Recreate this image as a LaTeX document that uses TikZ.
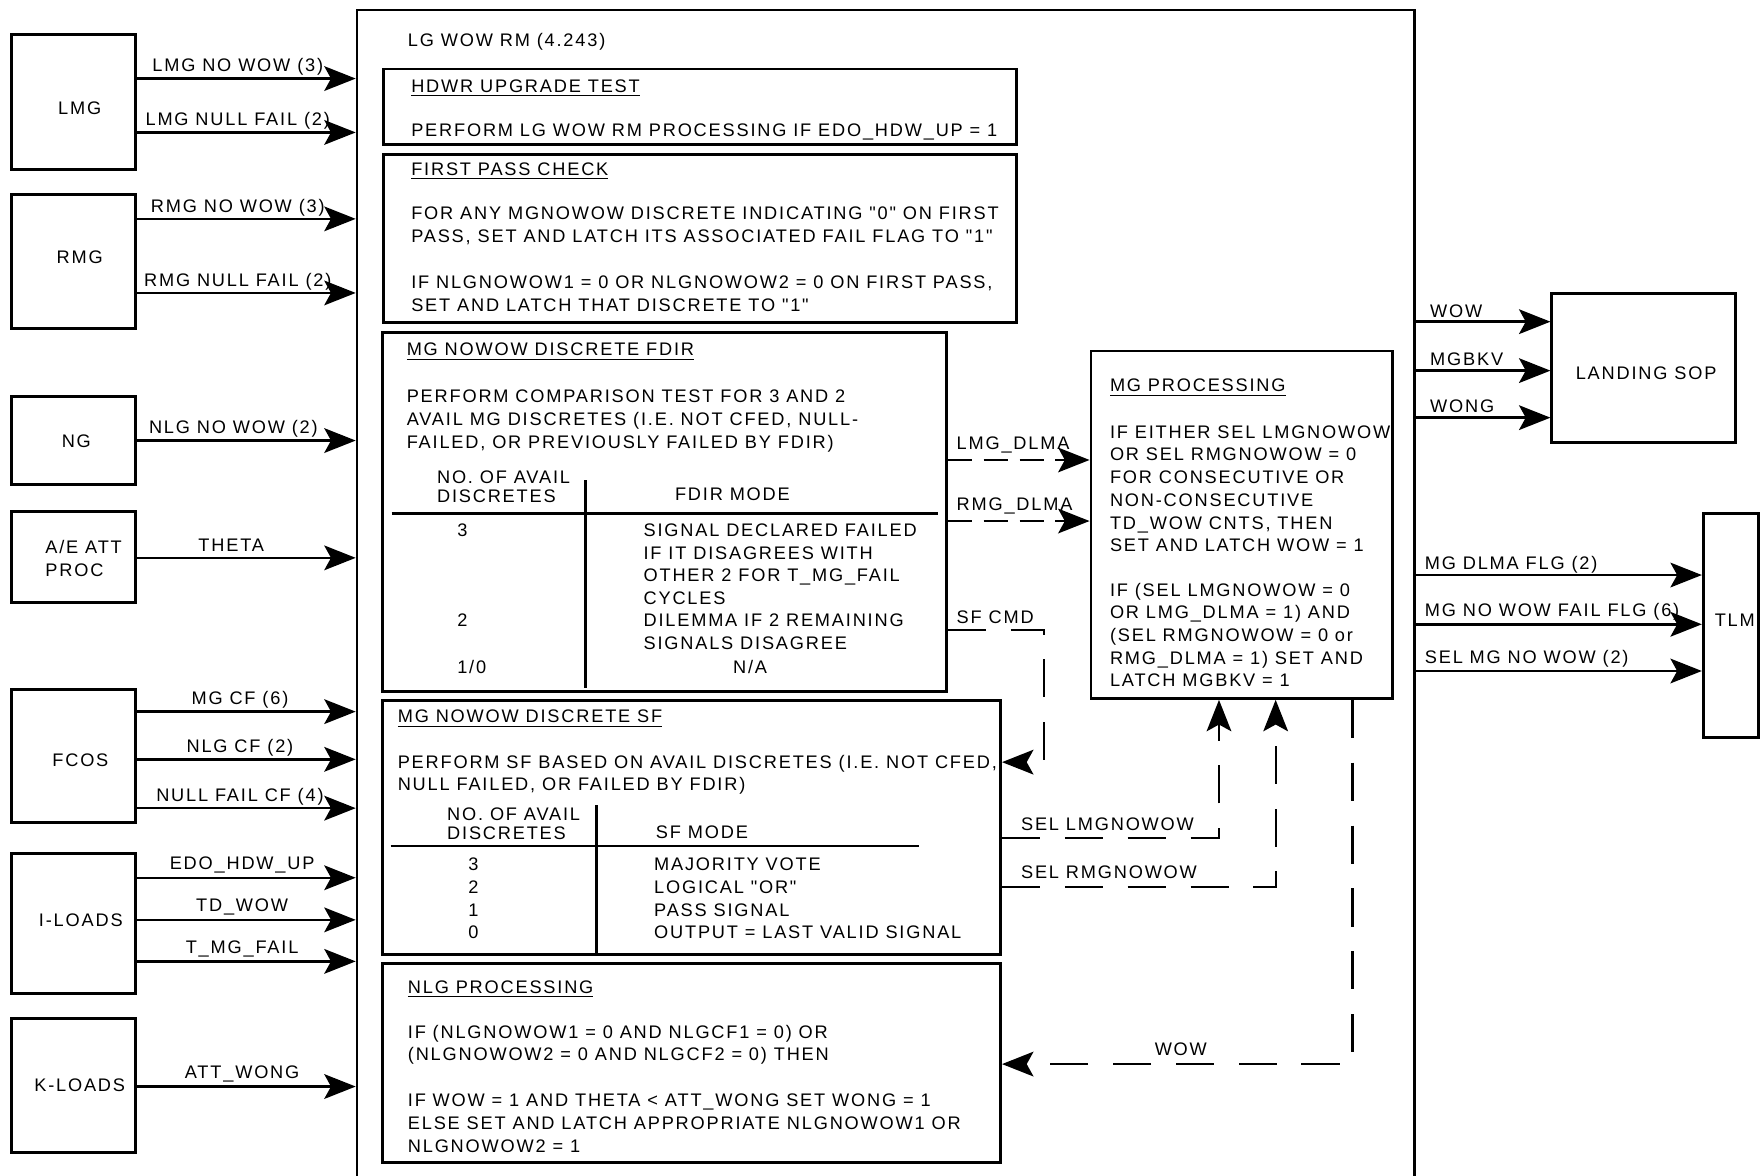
\documentclass[tikz,border=0pt]{standalone}
\usepackage{fontspec}
\setmainfont{Liberation Sans}[LetterSpace=10, Ligatures=TeXOff]
\usepackage{tikz}
\usetikzlibrary{arrows.meta, positioning, calc, fit}
\newcommand{\fsz}{\fontsize{8.1}{10.1}\selectfont}
\newcommand{\mline}[1]{\begin{tabular}[t]{@{}l@{}}#1\end{tabular}}
\tikzset{
  block/.style={rectangle, draw=black, line width=1.3pt, inner sep=0pt},
  mainblock/.style={rectangle, draw=black, line width=1.1pt, inner sep=0pt},
  boxlbl/.style={inner sep=0pt, align=left, font=\fsz},
  txt/.style={anchor=base west, inner sep=0pt, font=\fsz},
  lbl/.style={anchor=base, inner sep=0pt, font=\fsz},
  lbll/.style={anchor=base west, inner sep=0pt, font=\fsz},
  arrow/.style={-{Stealth[length=14pt, width=11pt, inset=3pt]}, line width=1.1pt, color=black},
  dasharrow/.style={arrow, line width=1pt, dash pattern=on 11pt off 5pt},
  longdash/.style={arrow, line width=1pt, dash pattern=on 17pt off 11pt},
  line/.style={line width=1.2pt, color=black}
}

\begin{document}
\begin{tikzpicture}[x=0.5pt, y=-0.5pt]
  \clip (0,0) rectangle (1568,1047);
  \fill[white] (0,0) rectangle (1568,1047);

  % sources
  \node[block, fit={(10,31) (121,151)}] (lmg) {};
  \node[block, fit={(10,173) (121,293)}] (rmg) {};
  \node[block, fit={(10,353) (121,432)}] (ng) {};
  \node[block, fit={(10,456) (121,537)}] (aeatt) {};
  \node[block, fit={(10,614) (121,733)}] (fcos) {};
  \node[block, fit={(10,760) (121,885)}] (iload) {};
  \node[block, fit={(10,907) (121,1027)}] (kload) {};
  \node[boxlbl] (lmgtxt) at (71,96) {LMG};
  \node[boxlbl] (rmgtxt) at (71,229) {RMG};
  \node[boxlbl] (ngtxt) at (68,393.5) {NG};
  \node[boxlbl] (aetxt) at (74.5,497.5) {A/E ATT\\PROC};
  \node[boxlbl] (fcostxt) at (71.6,677) {FCOS};
  \node[boxlbl] (iloadtxt) at (72,820) {I-LOADS};
  \node[boxlbl] (kloadtxt) at (71,967) {K-LOADS};

  % LG WOW RM
  \node[mainblock, fit={(318,9) (1260,1090)}] (main) {};
  \node[txt] (maintxt) at (363,41.6) {LG WOW RM (4.243)};

  \node[block, fit={(341.5,61.5) (906,129)}] (hdwr) {};
  \node[txt] (hdwrttl) at (366,82) {\underline{HDWR UPGRADE TEST}};
  \node[txt] (hdwrtxt) at (366,122) {PERFORM LG WOW RM PROCESSING IF EDO\_HDW\_UP = 1};

  \node[block, fit={(341.5,137.5) (906,287.5)}] (first) {};
  \node[txt] (firstttl) at (366,156) {\underline{FIRST PASS CHECK}};
  \node[txt] (firsta) at (366,196) {\mline{FOR ANY MGNOWOW DISCRETE INDICATING "0" ON FIRST\\PASS, SET AND LATCH ITS ASSOCIATED FAIL FLAG TO "1"}};
  \node[txt] (firstb) at (366,257) {\mline{IF NLGNOWOW1 = 0 OR NLGNOWOW2 = 0 ON FIRST PASS,\\SET AND LATCH THAT DISCRETE TO "1"}};

  \node[block, fit={(341,296.4) (843,616)}] (fdir) {};
  \node[txt] (fdirttl) at (362,317) {\underline{MG NOWOW DISCRETE FDIR}};
  \node[txt] (fdirtxt) at (362,359) {\mline{PERFORM COMPARISON TEST FOR 3 AND 2\\AVAIL MG DISCRETES (I.E. NOT CFED, NULL-\\FAILED, OR PREVIOUSLY FAILED BY FDIR)}};
  \node[txt] (fdirnum) at (389,430.6) {\mline{NO. OF AVAIL\\[-1.6pt]DISCRETES}};
  \node[txt] (fdirmode) at (601,445.5) {FDIR MODE};
  \draw[line] (349,457.3) -- (835.6,457.3);
  \draw[line] (521.8,427.7) -- (521.8,613.3);
  \node[txt] (fdirthree) at (407,478) {3};
  \node[txt] (fdirthreetxt) at (573,478) {\mline{SIGNAL DECLARED FAILED\\IF IT DISAGREES WITH\\OTHER 2 FOR T\_MG\_FAIL\\CYCLES}};
  \node[txt] (fdirtwo) at (407,558.3) {2};
  \node[txt] (fdirtwotxt) at (573,558.3) {\mline{DILEMMA IF 2 REMAINING\\SIGNALS DISAGREE}};
  \node[txt] (fdirone) at (407,600) {1/0};
  \node[lbl] (fdironetxt) at (668.3,600) {N/A};

  \node[block, fit={(341,624.2) (891.4,850)}] (sf) {};
  \node[txt] (sfttl) at (354,644) {\underline{MG NOWOW DISCRETE SF}};
  \node[txt] (sftxt) at (354,684.5) {\mline{PERFORM SF BASED ON AVAIL DISCRETES (I.E. NOT CFED,\\NULL FAILED, OR FAILED BY FDIR)}};
  \node[txt] (sfnum) at (398,731.2) {\mline{NO. OF AVAIL\\[-1.6pt]DISCRETES}};
  \node[txt] (sfmode) at (584,747) {SF MODE};
  \draw[line] (348,753.7) -- (819,753.7);
  \draw[line] (531.3,717.2) -- (sf.south -| 531.3,0);
  \node[lbl] (sfthree) at (421.7,775.1) {3};
  \node[lbl] (sftwo) at (421.7,795.9) {2};
  \node[lbl] (sfone) at (421.7,816.1) {1};
  \node[lbl] (sfzero) at (421.7,836) {0};
  \node[txt] (sfthreetxt) at (582.4,775.1) {MAJORITY VOTE};
  \node[txt] (sftwotxt) at (582.4,795.9) {LOGICAL "OR"};
  \node[txt] (sfonetxt) at (582.4,816.1) {PASS SIGNAL};
  \node[txt] (sfzerotxt) at (582.4,836) {OUTPUT = LAST VALID SIGNAL};

  \node[block, fit={(341,858.5) (891.4,1035.8)}] (nlg) {};
  \node[txt] (nlgttl) at (363,885) {\underline{NLG PROCESSING}};
  \node[txt] (nlga) at (363,925) {\mline{IF (NLGNOWOW1 = 0 AND NLGCF1 = 0) OR\\(NLGNOWOW2 = 0 AND NLGCF2 = 0) THEN}};
  \node[txt] (nlgb) at (363,986) {\mline{IF WOW = 1 AND THETA < ATT\_WONG SET WONG = 1\\ELSE SET AND LATCH APPROPRIATE NLGNOWOW1 OR\\NLGNOWOW2 = 1}};

  \node[block, fit={(972,312.7) (1240.5,622.2)}] (mgp) {};
  \node[txt] (mgpttl) at (988.5,349) {\underline{MG PROCESSING}};
  \node[txt] (mgpa) at (988.5,390.5) {\mline{IF EITHER SEL LMGNOWOW\\OR SEL RMGNOWOW = 0\\FOR CONSECUTIVE OR\\NON-CONSECUTIVE\\TD\_WOW CNTS, THEN\\SET AND LATCH WOW = 1}};
  \node[txt] (mgpb) at (988.5,531) {\mline{IF (SEL LMGNOWOW = 0\\OR LMG\_DLMA = 1) AND\\(SEL RMGNOWOW = 0 or\\RMG\_DLMA = 1) SET AND\\LATCH MGBKV = 1}};

  % sinks
  \node[block, fit={(1382.6,261.3) (1546.4,394.4)}] (sop) {};
  \node[boxlbl] (soptxt) at (1466.5,332.5) {LANDING SOP};
  \node[block, fit={(1517.5,457.3) (1566.3,657.2)}] (tlm) {};
  \node[boxlbl] (tlmtxt) at (1545.5,552.5) {TLM};

  % inputs
  \draw[arrow] (lmg.east |- 0,70) -- node[lbl, pos=0.46, yshift=3pt] {LMG NO WOW (3)} (main.west |- 0,70);
  \draw[arrow] (lmg.east |- 0,118) -- node[lbl, pos=0.46, yshift=3pt] {LMG NULL FAIL (2)} (main.west |- 0,118);
  \draw[arrow] (rmg.east |- 0,195) -- node[lbl, pos=0.46, yshift=3pt] {RMG NO WOW (3)} (main.west |- 0,195);
  \draw[arrow] (rmg.east |- 0,261) -- node[lbl, pos=0.46, yshift=3pt] {RMG NULL FAIL (2)} (main.west |- 0,261);
  \draw[arrow] (ng.east |- 0,392.5) -- node[lbl, pos=0.44, yshift=3pt] {NLG NO WOW (2)} (main.west |- 0,392.5);
  \draw[arrow] (aeatt.east |- 0,497) -- node[lbl, pos=0.43, yshift=3pt] {THETA} (main.west |- 0,497);
  \draw[arrow] (fcos.east |- 0,634) -- node[lbl, pos=0.47, yshift=3pt] {MG CF (6)} (main.west |- 0,634);
  \draw[arrow] (fcos.east |- 0,676.5) -- node[lbl, pos=0.47, yshift=3pt] {NLG CF (2)} (main.west |- 0,676.5);
  \draw[arrow] (fcos.east |- 0,720) -- node[lbl, pos=0.47, yshift=3pt] {NULL FAIL CF (4)} (main.west |- 0,720);
  \draw[arrow] (iload.east |- 0,782) -- node[lbl, pos=0.48, yshift=3.5pt] {EDO\_HDW\_UP} (main.west |- 0,782);
  \draw[arrow] (iload.east |- 0,819.5) -- node[lbl, pos=0.48, yshift=3.5pt] {TD\_WOW} (main.west |- 0,819.5);
  \draw[arrow] (iload.east |- 0,856.5) -- node[lbl, pos=0.48, yshift=3.5pt] {T\_MG\_FAIL} (main.west |- 0,856.5);
  \draw[arrow] (kload.east |- 0,968) -- node[lbl, pos=0.48, yshift=3.5pt] {ATT\_WONG} (main.west |- 0,968);

  % outputs
  \draw[arrow] (main.east |- 0,286.6) -- node[lbll, pos=0, xshift=6pt, yshift=1.8pt] {WOW} (sop.west |- 0,286.6);
  \draw[arrow] (main.east |- 0,330.2) -- node[lbll, pos=0, xshift=6pt, yshift=2.2pt] {MGBKV} (sop.west |- 0,330.2);
  \draw[arrow] (main.east |- 0,372.1) -- node[lbll, pos=0, xshift=6pt, yshift=2.2pt] {WONG} (sop.west |- 0,372.1);
  \draw[arrow] (main.east |- 0,512.3) -- node[lbll, pos=0, xshift=3.6pt, yshift=2.6pt] {MG DLMA FLG (2)} (tlm.west |- 0,512.3);
  \draw[arrow] (main.east |- 0,556.2) -- node[lbll, pos=0, xshift=3.6pt, yshift=3.4pt] {MG NO WOW FAIL FLG (6)} (tlm.west |- 0,556.2);
  \draw[arrow] (main.east |- 0,597.8) -- node[lbll, pos=0, xshift=3.6pt, yshift=3.4pt] {SEL MG NO WOW (2)} (tlm.west |- 0,597.8);

  % internal flags
  \draw[dasharrow] (fdir.east |- 0,409.8) -- node[lbll, pos=0, xshift=3.5pt, yshift=4.5pt] {LMG\_DLMA} (mgp.west |- 0,409.8);
  \draw[dasharrow] (fdir.east |- 0,464.2) -- node[lbll, pos=0, xshift=3.5pt, yshift=4.5pt] {RMG\_DLMA} (mgp.west |- 0,464.2);
  \coordinate (sfbend) at (930,679);
  \draw[longdash] (fdir.east |- 0,561) -| node[lbll, pos=0, xshift=3.5pt, yshift=2.6pt] {SF CMD} (sfbend) -- (sf.east |- sfbend);
  \draw[longdash] (sf.east |- 0,746.5) -| node[lbll, pos=0, xshift=8pt, yshift=3.5pt] {SEL LMGNOWOW} (mgp.south -| 1086,0);
  \draw[longdash] (sf.east |- 0,790.5) -| node[lbll, pos=0, xshift=8pt, yshift=4pt] {SEL RMGNOWOW} (mgp.south -| 1136.5,0);
  \draw[longdash] (mgp.south -| 1205,0) |- node[lbl, pos=0.745, yshift=4pt] {WOW} (nlg.east |- 0,948);
\end{tikzpicture}
\end{document}
